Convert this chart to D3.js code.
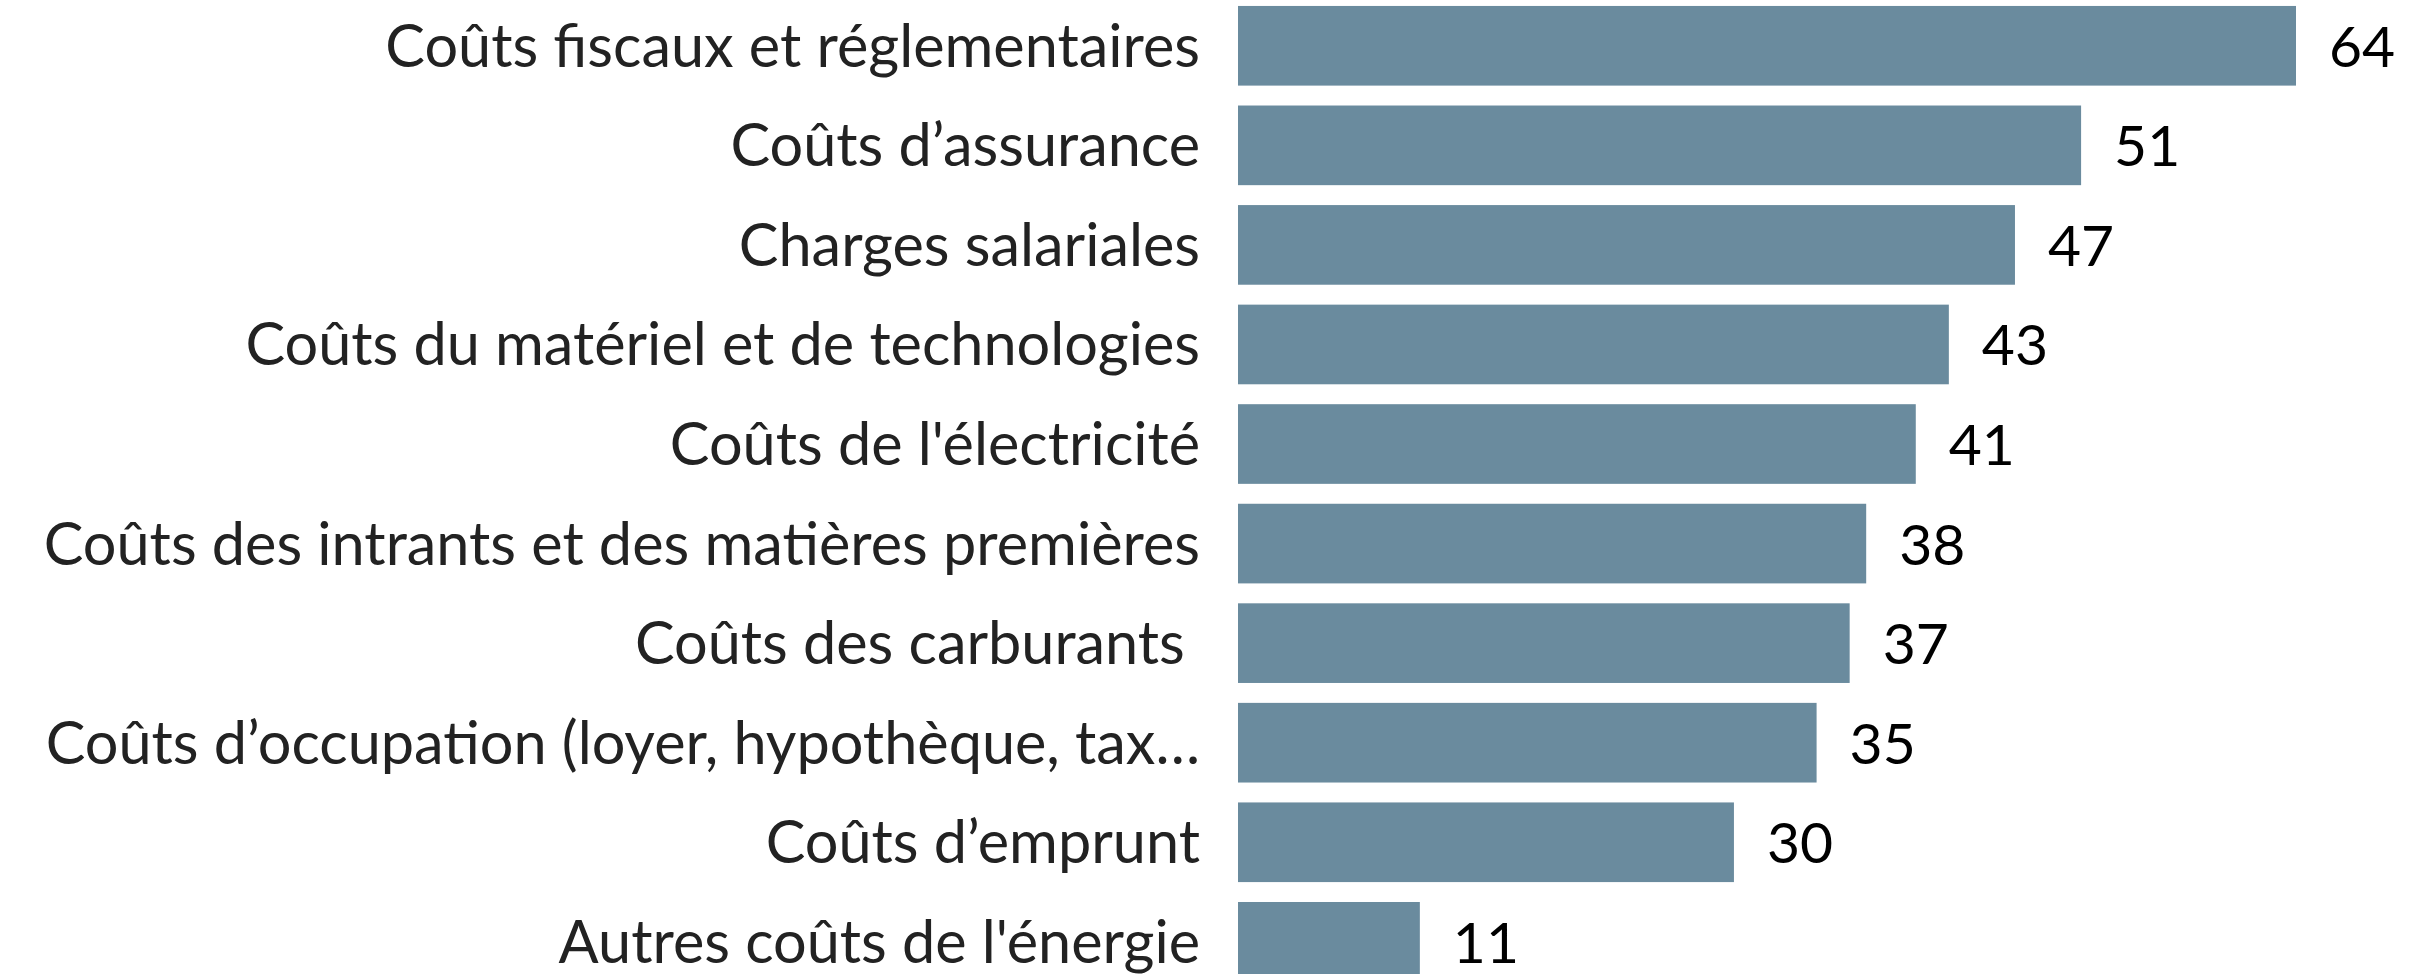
<!DOCTYPE html>
<html>
<head>
<meta charset="utf-8">
<script src="https://cdn.jsdelivr.net/npm/d3@7"></script>
<style>
  html, body { margin: 0; padding: 0; background: #fff; overflow: hidden; }
  svg { display: block; }
</style>
</head>
<body>
<svg id="chart" width="2421" height="974"></svg>
<script>
const categories = [
  "Coûts fiscaux et réglementaires",
  "Coûts d’assurance",
  "Charges salariales",
  "Coûts du matériel et de technologies",
  "Coûts de l'électricité",
  "Coûts des intrants et des matières premières",
  "Coûts des carburants ",
  "Coûts d’occupation (loyer, hypothèque, tax…",
  "Coûts d’emprunt",
  "Autres coûts de l'énergie"
];
const values = [64, 51, 47, 43, 41, 38, 37, 35, 30, 11];

const svg = d3.select("#chart");
const x = d3.scaleLinear().domain([0, 64]).range([1238, 2296]);
const y = d3.scaleBand().domain(categories).range([-4, 991.6]).paddingInner(0.2).paddingOuter(0.1);

const rows = svg.selectAll("g.row").data(categories.map((c, i) => ({c, v: values[i]})))
  .enter().append("g").attr("class", "row");

rows.append("rect")
  .attr("x", x(0))
  .attr("y", d => y(d.c))
  .attr("width", d => x(d.v) - x(0))
  .attr("height", y.bandwidth())
  .attr("fill", "#6a8b9e");

rows.append("text")
  .attr("x", 1200)
  .attr("y", d => y(d.c) + y.bandwidth() / 2 + 21)
  .attr("text-anchor", "end")
  .attr("font-family", "Lato")
  .attr("font-size", 59.4)
  .attr("fill", "#222")
  .style("white-space", "pre")
  .text(d => d.c);

rows.append("text")
  .attr("x", d => x(d.v) + 33)
  .attr("y", d => y(d.c) + y.bandwidth() / 2 + 21)
  .attr("font-family", "Lato")
  .attr("font-size", 57)
  .attr("fill", "#000")
  .text(d => d.v);
</script>
</body>
</html>
